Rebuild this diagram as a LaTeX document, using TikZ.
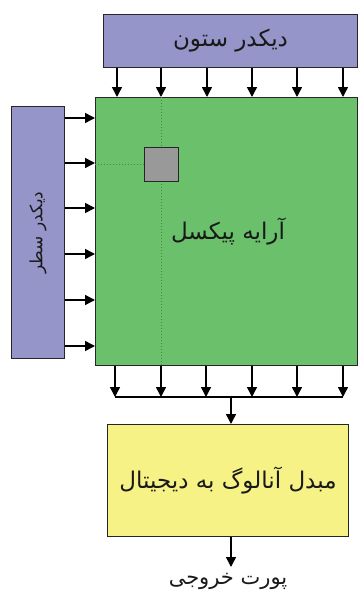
\documentclass[tikz,border=0pt]{standalone}
\usepackage{fontspec}
\usetikzlibrary{arrows.meta}
\TeXXeTstate=1
\newfontfamily\arabicfont[Script=Arabic]{DejaVu Sans}
\definecolor{decpurple}{HTML}{9595C9}
\definecolor{arrgreen}{HTML}{6BC06B}
\definecolor{adcyellow}{HTML}{F6F285}
\definecolor{pixgray}{HTML}{999999}
\definecolor{dotgreen}{HTML}{3E8E3E}
\begin{document}
\begin{tikzpicture}[x=1pt,y=-1pt,
  blockbox/.style={draw=black!85, line width=1pt, anchor=north west, inner sep=0pt},
  arr/.style={line width=1.5pt, -{Triangle[width=10pt,length=10pt]}},
  lbl/.style={text=black!90, inner sep=1pt}]
\useasboundingbox (0,0) rectangle (359,597);
% blocks
\node[blockbox, fill=decpurple, minimum width=254pt, minimum height=53pt] (col) at (103,14) {};
\node[lbl, font=\arabicfont\fontsize{23}{27}\selectfont] (coltxt) at (col.center) {\beginR دیکدر ستون\endR};
\node[blockbox, fill=decpurple, minimum width=53pt, minimum height=252pt] (row) at (11,106) {};
\node[lbl, rotate=90, font=\arabicfont\fontsize{17}{21}\selectfont] (rowtxt) at (row.center) {\beginR دیکدر سطر\endR};
\node[blockbox, fill=arrgreen, minimum width=262pt, minimum height=268pt] (arr) at (95,97) {};
\node[blockbox, fill=adcyellow, minimum width=241pt, minimum height=112pt] (adc) at (107,424) {};
% pixel and dotted guides
\coordinate (pc) at (161,164);
\draw[dotgreen, line width=1pt, dotted] (arr.north -| pc) -- (arr.south -| pc);
\draw[dotgreen, line width=1pt, dotted] (arr.west |- pc) -- (pc);
\node[blockbox, fill=pixgray, minimum width=34pt, minimum height=34pt, anchor=center] (pix) at (pc) {};
\node[lbl, font=\arabicfont\fontsize{23}{27}\selectfont] (arrtxt) at (228,232) {\beginR آرایه پیکسل\endR};
\node[lbl, font=\arabicfont\fontsize{23}{27}\selectfont] (adctxt) at (adc.center) {\beginR مبدل آنالوگ به دیجیتال\endR};
% column arrows
\foreach \i/\x in {1/117,2/161,3/207,4/252,5/297,6/343} {
  \coordinate (t\i) at (\x,0);
  \draw[arr] (col.south -| t\i) -- (arr.north -| t\i);
}
% row arrows
\foreach \i/\y in {1/118,2/163,3/208,4/254,5/300,6/346} {
  \coordinate (r\i) at (0,\y);
  \draw[arr] (row.east |- r\i) -- (arr.west |- r\i);
}
% bus
\foreach \i/\x in {1/115,2/161,3/206,4/252,5/297,6/343} {
  \coordinate (b\i) at (\x,397);
  \draw[arr] (arr.south -| b\i) -- (b\i);
}
\draw[line width=1.8pt] (b1) -- (b6);
\coordinate (bm) at (231,397);
\draw[arr] (bm) -- (adc.north -| bm);
% output
\node[lbl, font=\arabicfont\fontsize{21}{25}\selectfont] (out) at (228,581) {\beginR پورت خروجی\endR};
\coordinate (oe) at (231,567);
\draw[arr] (adc.south -| oe) -- (oe);
\end{tikzpicture}
\end{document}
